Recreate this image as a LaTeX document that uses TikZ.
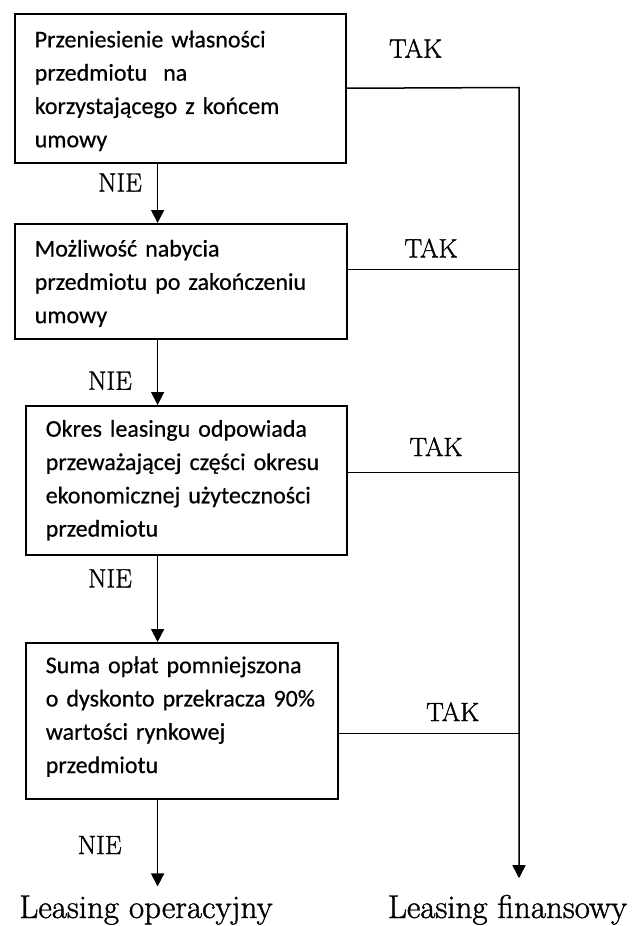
\documentclass[tikz,border=0pt]{standalone}
\usepackage{fontspec}
\newfontfamily\carlitofont{Carlito}[FakeBold=0.5]
\newfontfamily\labelfont{Latin Modern Roman}[FakeBold=1.2]
\usetikzlibrary{arrows.meta}
\tikzset{
  box/.style={draw, line width=1.5pt, rectangle, anchor=north west, align=left,
    inner xsep=20pt, inner ysep=0pt, font=\carlitofont\fontsize{24}{33.3}\selectfont},
  lbl/.style={font=\labelfont\fontsize{26.5}{30}\selectfont, inner sep=0pt},
  endlbl/.style={font=\labelfont\fontsize{33}{38}\selectfont, anchor=base, inner xsep=0pt},
  conn/.style={line width=1.5pt},
  arr/.style={conn, -{Triangle[length=13pt,width=13pt]}},
}
\begin{document}
\begin{tikzpicture}[x=1pt,y=-1pt]
\useasboundingbox (0,0) rectangle (642,926);

% decision boxes
\node[box, text width=291pt, minimum height=149pt] (b1) at (14,13)
  {\rule{0pt}{22pt}Przeniesienie własności\\przedmiotu\ \ na\\korzystającego z końcem\\umowy};
\node[box, text width=292pt, minimum height=115pt] (b2) at (14,223)
  {\rule{0pt}{21pt}Możliwość nabycia\\przedmiotu po zakończeniu\\umowy};
\node[box, text width=281pt, minimum height=149pt] (b3) at (25,405)
  {Okres leasingu odpowiada\\przeważającej części okresu\\ekonomicznej użyteczności\\przedmiotu};
\node[box, text width=272pt, minimum height=156pt] (b4) at (25,642)
  {Suma opłat pomniejszona\\o dyskonto przekracza 90\%\\wartości rynkowej\\przedmiotu\rule[-12pt]{0pt}{0pt}};

% final results
\node[endlbl, inner ysep=8.8pt] (lo) at (146,918) {Leasing operacyjny};
\node[endlbl, inner ysep=16.4pt] (lf) at (507.5,918) {Leasing finansowy};

% labels
\node[lbl] (t1) at (415.6,48.3) {TAK};
\node[lbl] (t2) at (431,248) {TAK};
\node[lbl] (t3) at (436,446.7) {TAK};
\node[lbl] (t4) at (452.7,711.7) {TAK};
\node[lbl] (n1) at (120,182.5) {NIE};
\node[lbl] (n2) at (110,380.7) {NIE};
\node[lbl] (n3) at (110,578.3) {NIE};
\node[lbl] (n4) at (99.6,845) {NIE};

% helper coordinates
\coordinate (ax) at (157.6,0);
\coordinate (j1) at (519,87.5);
\coordinate (j2) at (519,269.3);
\coordinate (j3) at (519,472.7);
\coordinate (j4) at (519,733.3);

% NIE path
\draw[arr] (b1.south -| ax) -- (b2.north -| ax);
\draw[arr] (b2.south -| ax) -- (b3.north -| ax);
\draw[arr] (b3.south -| ax) -- (b4.north -| ax);
\draw[arr] (b4.south -| ax) -- (lo.north -| ax);

% TAK path
\draw[arr] (b1.east) -- (j1) -- (lf.north -| j1);
\draw[conn] (b2.east |- j2) -- (j2);
\draw[conn] (b3.east |- j3) -- (j3);
\draw[conn] (b4.east |- j4) -- (j4);
\end{tikzpicture}
\end{document}
